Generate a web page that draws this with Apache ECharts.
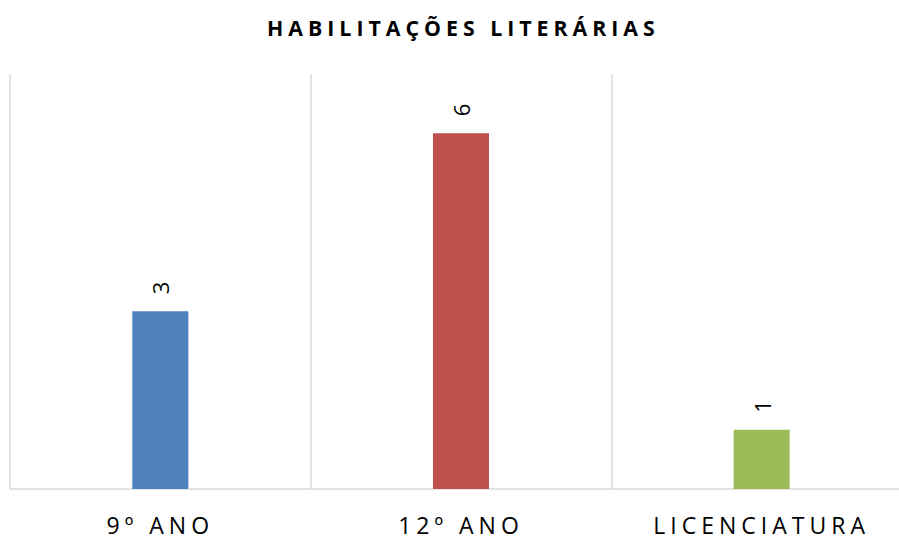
<!DOCTYPE html>
<html><head><meta charset="utf-8">
<script src="https://cdn.jsdelivr.net/npm/echarts@6/dist/echarts.min.js"></script>
<style>
html,body{margin:0;padding:0;background:#fff;}
#c{width:899px;height:540px;}
#c text{letter-spacing:5px;}
</style></head>
<body><div id="c"></div>
<script>
const categories = ['9º ANO', '12º ANO', 'LICENCIATURA'];
const values = [3, 6, 1];
const colors = ['#4F81BD', '#C0504D', '#9BBB59'];
const titleText = 'HABILITAÇÕES LITERÁRIAS';

const chart = echarts.init(document.getElementById('c'), null, {renderer: 'svg'});
chart.setOption({
  animation: false,
  backgroundColor: '#fff',
  title: {
    text: titleText, left: 262, top: 12, padding: 5,
    textStyle: {fontFamily: 'Open Sans', fontWeight: 'bold', fontSize: 21.3, color: '#000'}
  },
  grid: {left: 10, width: 902, top: 74, bottom: 51, containLabel: false, outerBoundsMode: 'none'},
  xAxis: {
    type: 'category', data: categories,
    axisLine: {show: true, lineStyle: {color: '#d9d9d9', width: 1.5}},
    axisTick: {show: false},
    splitLine: {show: true, lineStyle: {color: '#d9d9d9', width: 1.5}},
    axisLabel: {color: '#000', fontFamily: 'Open Sans', fontSize: 23, margin: 24}
  },
  yAxis: {
    type: 'value', min: 0, max: 7, interval: 1,
    show: false, splitLine: {show: false}
  },
  series: [{
    type: 'bar', barWidth: 56,
    data: values.map((v, i) => ({value: v, itemStyle: {color: colors[i]}})),
    label: {show: true, position: 'top', rotate: 90, distance: 17,
      color: '#000', fontFamily: 'Open Sans', fontSize: 22, align: 'left', verticalAlign: 'middle'}
  }]
});
</script></body></html>
